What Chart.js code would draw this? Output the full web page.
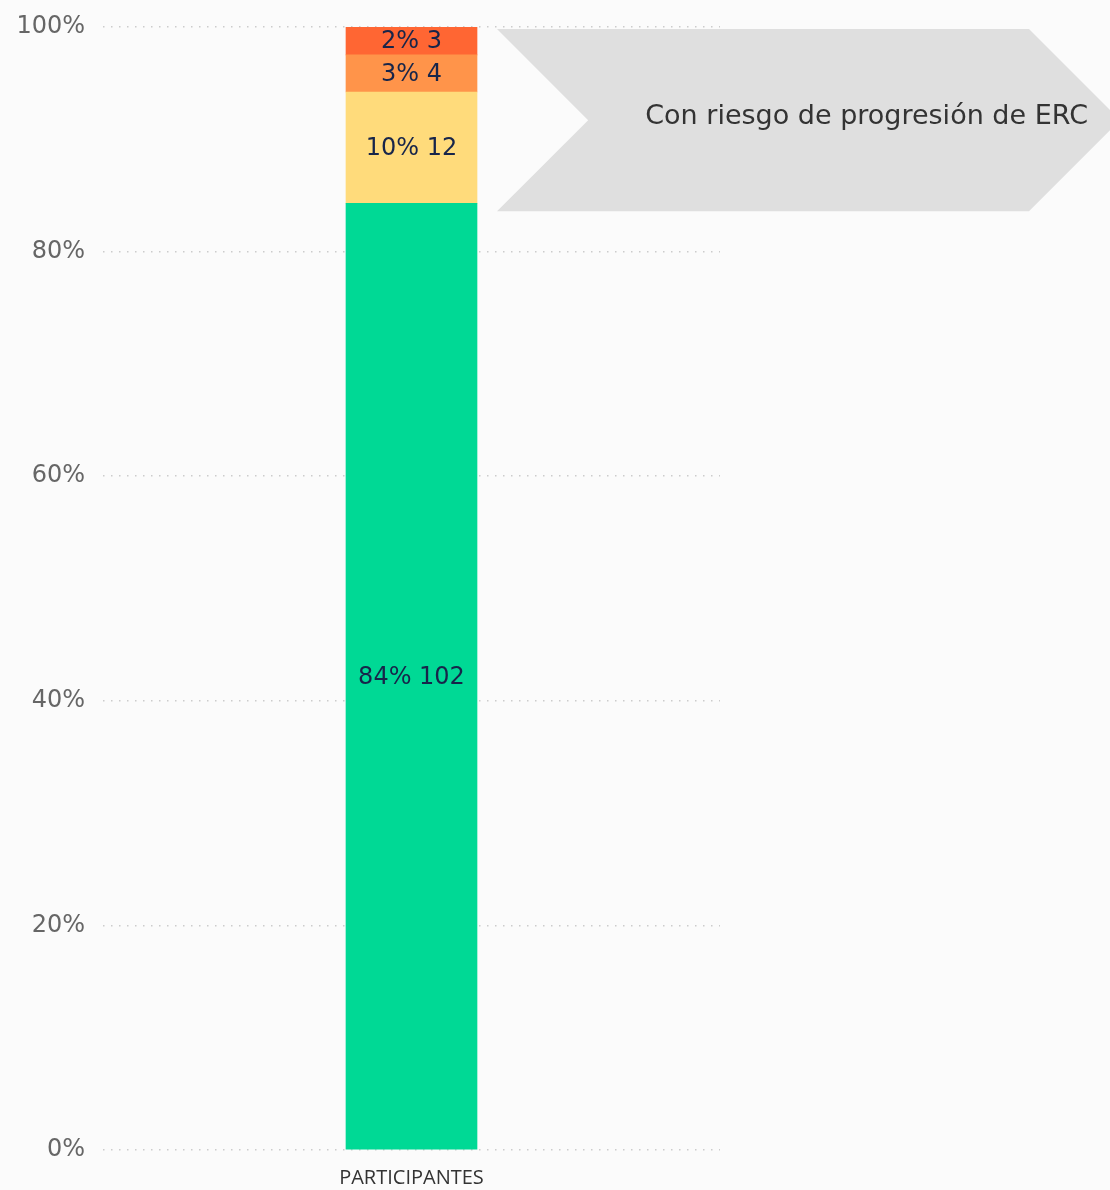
<!DOCTYPE html>
<html lang="es">
<head>
<meta charset="UTF-8">
<title>Participantes</title>
<script src="https://cdn.jsdelivr.net/npm/chart.js"></script>
<style>
  html, body { margin:0; padding:0; background:#fbfbfb; }
  #wrap { width:1110px; height:1190px; position:relative; }
</style>
</head>
<body>
<div id="wrap"><canvas id="myChart"></canvas></div>
<script>
// datos
const categorias = ['PARTICIPANTES'];
const grupos = ['sin riesgo', 'riesgo moderado', 'riesgo alto', 'riesgo muy alto'];
const conteos = [102, 12, 4, 3];
const colores = ['#00d995', '#ffdb7b', '#ff944a', '#ff6633'];
const ticksY = [0, 20, 40, 60, 80, 100];
const textoFlecha = 'Con riesgo de progresión de ERC';

const total = conteos.reduce((a, b) => a + b, 0);
const porcentajes = conteos.map(v => v / total * 100);

const datasets = grupos.map((g, i) => ({
  label: g,
  data: [porcentajes[i]],
  backgroundColor: colores[i],
  borderWidth: 0,
  barThickness: 131,
  cuenta: conteos[i]
}));

// etiquetas dentro de cada segmento
const etiquetas = {
  id: 'etiquetas',
  afterDatasetsDraw(chart) {
    const ctx = chart.ctx;
    ctx.save();
    ctx.font = '24px "DejaVu Sans"';
    ctx.fillStyle = '#17254a';
    ctx.textAlign = 'center';
    ctx.textBaseline = 'middle';
    chart.data.datasets.forEach((ds, i) => {
      const el = chart.getDatasetMeta(i).data[0];
      const txt = Math.round(ds.data[0]) + '% ' + ds.cuenta;
      ctx.fillText(txt, el.x, (el.y + el.base) / 2 + 1);
    });
    ctx.restore();
  }
};

// flecha gris de la derecha
const flecha = {
  id: 'flecha',
  afterDraw(chart) {
    const ctx = chart.ctx;
    const y = chart.scales.y;
    const el = chart.getDatasetMeta(0).data[0];
    const top = y.getPixelForValue(100) + 2;
    const bot = y.getPixelForValue(porcentajes[0]) + 8;
    const mid = (top + bot) / 2;
    const h = (bot - top) / 2;
    const x0 = el.x + 131 / 2 + 20;
    const x1 = 1029;
    ctx.save();
    ctx.fillStyle = '#dfdfdf';
    ctx.beginPath();
    ctx.moveTo(x0, top);
    ctx.lineTo(x1, top);
    ctx.lineTo(x1 + h, mid);
    ctx.lineTo(x1, bot);
    ctx.lineTo(x0, bot);
    ctx.lineTo(x0 + h, mid);
    ctx.closePath();
    ctx.fill();
    ctx.font = '27px "DejaVu Sans"';
    ctx.fillStyle = '#333333';
    ctx.textAlign = 'right';
    ctx.textBaseline = 'middle';
    ctx.fillText(textoFlecha, 1088, mid - 3);
    ctx.restore();
  }
};

const ctx = document.querySelector('#myChart').getContext('2d');
const myChart = new Chart(ctx, {
  type: 'bar',
  data: { labels: categorias, datasets: datasets },
  options: {
    responsive: true,
    maintainAspectRatio: false,
    animation: false,
    layout: { padding: { top: 27, right: 390, bottom: 0, left: 0 } },
    plugins: { legend: { display: false }, tooltip: { enabled: false } },
    scales: {
      x: {
        stacked: true,
        grid: { display: false, drawTicks: true, tickLength: 16 },
        border: { display: false },
        ticks: { color: '#333333', font: { family: 'Open Sans', size: 20 }, padding: 0 }
      },
      y: {
        stacked: true,
        min: 0, max: 100,
        afterFit(scale) { scale.width = 103; scale.paddingTop = 0; scale.paddingBottom = 0; },
        afterBuildTicks(scale) { scale.ticks = ticksY.map(v => ({ value: v })); },
        grid: { color: '#cccccc', lineWidth: 1.5, drawTicks: false },
        border: { display: false, dash: [1.5, 6.5] },
        ticks: {
          color: '#666666',
          font: { family: 'DejaVu Sans', size: 24 },
          padding: 18,
          callback: v => v + '%'
        }
      }
    }
  },
  plugins: [etiquetas, flecha]
});
</script>
</body>
</html>
